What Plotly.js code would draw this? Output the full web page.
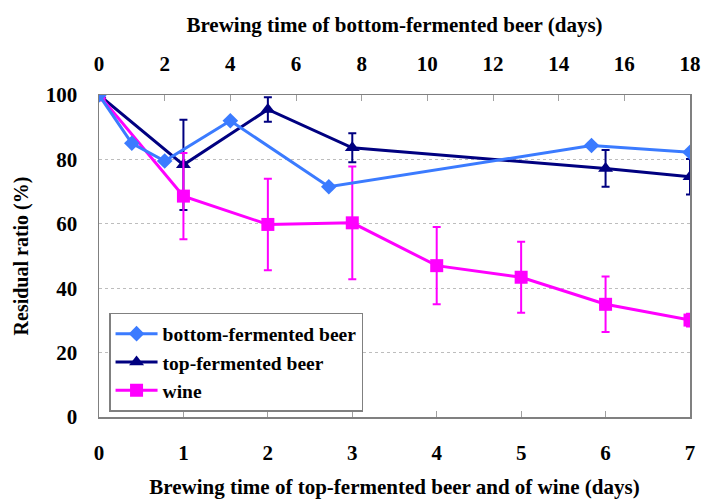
<!DOCTYPE html>
<html>
<head>
<meta charset="utf-8">
<script src="https://cdn.plot.ly/plotly-3.0.1.min.js"></script>
<style>html,body{margin:0;padding:0;background:#fff;}#chart{width:701px;height:499px;}</style>
</head>
<body>
<div id="chart"></div>
<script>
// Bottom-fermented beer (top axis, days 0-18)
const bottomDays = [0, 1, 2, 4, 7, 15, 18];
const bottomVals = [100, 85, 79.5, 92, 71.5, 84.3, 82.2];

// Top-fermented beer (bottom axis, days 0-7)
const topDays = [0, 1, 2, 3, 6, 7];
const topVals = [100, 78.3, 95.5, 83.6, 77.2, 74.6];
const topErr = [0, 14, 3.8, 4.5, 5.7, 5.5];

// Wine (bottom axis, days 0-7)
const wineDays = [0, 1, 2, 3, 4, 5, 6, 7];
const wineVals = [100, 68.6, 59.8, 60.3, 47.0, 43.4, 35.0, 30.1];
const wineErr = [0, 13.4, 14.2, 17.5, 12.0, 11.0, 8.6, 2.0];

const yTicks = [0, 20, 40, 60, 80, 100];

const font = {family: '"Liberation Serif", "Times New Roman", serif', color: '#000'};

const traces = [
  {
    x: bottomDays, y: bottomVals, xaxis: 'x2', yaxis: 'y',
    name: 'bottom-fermented beer', mode: 'lines+markers',
    line: {color: '#3B7BFF', width: 3},
    marker: {symbol: 'diamond', size: 12, color: '#3B7BFF'}
  },
  {
    x: topDays, y: topVals, xaxis: 'x', yaxis: 'y',
    name: 'top-fermented beer', mode: 'lines+markers',
    line: {color: '#000080', width: 3},
    marker: {symbol: 'triangle-up', size: 13, color: '#000080'},
    error_y: {type: 'data', array: topErr, visible: true, color: '#000080', thickness: 2, width: 4}
  },
  {
    x: wineDays, y: wineVals, xaxis: 'x', yaxis: 'y',
    name: 'wine', mode: 'lines+markers',
    line: {color: '#FF00FF', width: 3},
    marker: {symbol: 'square', size: 13, color: '#FF00FF'},
    error_y: {type: 'data', array: wineErr, visible: true, color: '#FF00FF', thickness: 2, width: 4}
  }
];

const layout = {
  width: 701, height: 499,
  margin: {l: 99, r: 11, t: 95, b: 82, pad: 0},
  paper_bgcolor: '#fff', plot_bgcolor: '#fff',
  font: Object.assign({size: 20}, font),
  showlegend: true,
  legend: {
    x: 0.017, y: 0.323, xanchor: 'left', yanchor: 'top',
    bgcolor: '#fff', bordercolor: '#808080', borderwidth: 1.5,
    font: Object.assign({size: 19.5, weight: 'bold'}, font),
    tracegroupgap: 0, itemwidth: 42
  },
  xaxis: {
    range: [0, 7], dtick: 1, tick0: 0,
    showgrid: false, zeroline: false,
    showline: true, linecolor: '#808080', linewidth: 1.5,
    ticks: 'inside', ticklen: 6, tickcolor: '#a0a0a0',
    tickfont: Object.assign({size: 21, weight: 'bold'}, font),
    ticklabelstandoff: 16,
    title: {text: 'Brewing time of top-fermented beer and of wine (days)', font: Object.assign({size: 21, weight: 'bold'}, font), standoff: 22}
  },
  xaxis2: {
    range: [0, 18], dtick: 2, tick0: 0, overlaying: 'x', side: 'top',
    showgrid: false, zeroline: false,
    showline: true, linecolor: '#808080', linewidth: 1.5,
    ticks: 'inside', ticklen: 6, tickcolor: '#a0a0a0',
    tickfont: Object.assign({size: 21, weight: 'bold'}, font),
    ticklabelstandoff: 14,
    title: {text: 'Brewing time of bottom-fermented beer (days)', font: Object.assign({size: 21, weight: 'bold'}, font), standoff: 13}
  },
  yaxis: {
    range: [0, 100], tickvals: yTicks, ticktext: yTicks.map(String),
    showgrid: true, gridcolor: '#bdbdbd', griddash: 'dot', gridwidth: 1,
    zeroline: false,
    showline: true, linecolor: '#808080', linewidth: 1.5, mirror: true,
    ticks: '',
    tickfont: Object.assign({size: 21, weight: 'bold'}, font),
    ticklabelstandoff: 16,
    title: {text: 'Residual ratio (%)', font: Object.assign({size: 20, weight: 'bold'}, font), standoff: 12}
  }
};

Plotly.newPlot('chart', traces, layout, {displayModeBar: false, staticPlot: true});
</script>
</body>
</html>
